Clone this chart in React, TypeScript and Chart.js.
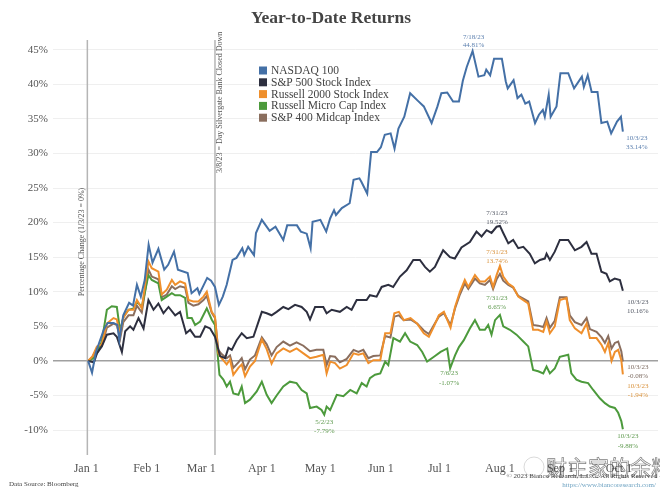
import React, { useEffect, useRef } from "react";
import { Chart, registerables } from "chart.js";

Chart.register(...registerables);

// ---------- DATA ----------
// x = day of year (Jan 1 = 0), y = % change since 1/3/23
const monthStartDays = [0, 31, 59, 90, 120, 151, 181, 212, 243, 273];
const monthLabels = ["Jan 1", "Feb 1", "Mar 1", "Apr 1", "May 1", "Jun 1", "Jul 1", "Aug 1", "Sep 1", "Oct 1"];
const yTickValues = [-10, -5, 0, 5, 10, 15, 20, 25, 30, 35, 40, 45];
const eventDays = [0.6, 66];

const seriesNames = [
  "NASDAQ 100",
  "S&P 500 Stock Index",
  "Russell 2000 Stock Index",
  "Russell Micro Cap Index",
  "S&P 400 Midcap Index",
];
const seriesColors = ["#4470a6", "#2d2f3f", "#ef8f2c", "#4c9a3c", "#8a6e5e"];

const nasdaq100: [number, number][] = [
  [1, 0], [3, -1.7], [5, 1.3], [9, 4.5], [11, 5.5], [14, 5.5], [16, 5.2], [17, 3.0], [19, 6.6], [22, 8.4],
  [24, 8.0], [26, 11.0], [28, 9.3], [30, 11.7], [32, 16.8], [34, 14.2], [37, 16.2], [40, 13.2], [42, 13.9], [45, 15.8],
  [47, 13.2], [52, 12.7], [54, 9.8], [57, 10.5], [58, 9.7], [62, 12.0], [64, 11.6], [66, 10.7], [68, 8.1], [70, 9.3],
  [72, 11.0], [75, 14.6], [77, 14.9], [80, 16.3], [81, 15.3], [83, 16.5], [86, 15.3], [87, 18.5], [90, 20.4], [94, 18.8],
  [97, 19.4], [101, 17.5], [103, 19.6], [108, 19.6], [110, 18.7], [113, 18.4], [115, 16.3], [116, 20.1], [120, 20.4], [123, 18.7],
  [125, 20.6], [127, 21.8], [128, 21.1], [131, 22.1], [135, 22.8], [137, 26.2], [140, 26.4], [141, 25.9], [144, 24.2], [146, 30.2],
  [149, 30.2], [151, 30.9], [153, 32.7], [156, 32.9], [158, 30.7], [160, 33.6], [163, 35.3], [166, 38.7], [170, 37.6], [173, 36.8],
  [177, 34.4], [180, 36.8], [182, 38.7], [185, 38.8], [188, 37.5], [191, 37.5], [193, 40.5], [195, 42.5], [198, 44.81], [201, 41.1],
  [204, 41.3], [205, 42.1], [207, 41.3], [209, 43.7], [213, 43.7], [215, 40.4], [216, 39.4], [219, 40.6], [221, 38.0], [223, 38.5],
  [225, 37.2], [227, 37.5], [230, 34.4], [232, 35.6], [234, 36.3], [235, 35.3], [237, 38.5], [238, 35.3], [241, 36.8], [243, 41.6],
  [247, 41.6], [250, 39.4], [254, 41.1], [255, 39.6], [257, 41.3], [259, 38.9], [262, 38.9], [264, 34.4], [267, 34.6], [269, 32.9],
  [272, 34.6], [274, 35.3], [275, 33.14],
];

const sp500: [number, number][] = [
  [1, 0], [4, -0.2], [5.5, 1.1], [8, 2.1], [10.6, 3.8], [14, 4.0], [15.7, 3.5], [18.3, 1.3], [20, 4.3], [22.5, 5.0],
  [24.2, 4.5], [26.8, 6.2], [29.4, 4.7], [31.9, 8.8], [34.5, 7.4], [37, 8.3], [39.6, 6.9], [42.2, 7.8], [45.6, 6.6], [48.1, 7.1],
  [51.2, 4.0], [53.3, 4.5], [55.8, 3.5], [58.4, 3.5], [61, 5.0], [63.5, 4.7], [66, 3.5], [68.6, 0.7], [71.2, 0.4], [72.9, 1.9],
  [74.6, 1.6], [77.1, 3.0], [79.7, 4.0], [82.3, 3.3], [85.7, 3.5], [90, 7.1], [92.5, 6.9], [95, 6.6], [97.6, 7.1], [101, 7.8],
  [103.6, 7.5], [107, 8.1], [110.4, 7.8], [113, 7.1], [114.7, 6.0], [117.3, 7.8], [121.5, 7.8], [123.2, 6.9], [125.8, 7.4], [130, 7.1],
  [133.5, 7.8], [136, 7.4], [138.6, 8.8], [143.7, 8.8], [145.4, 9.5], [148.8, 9.3], [151.4, 10.7], [154.8, 11.0], [157.3, 10.7], [160.8, 12.2],
  [164.2, 13.1], [167.6, 14.6], [171, 14.6], [173.6, 13.6], [176.1, 12.9], [178.7, 13.6], [180.4, 14.6], [182.9, 16.0], [186.4, 15.0], [188.9, 14.8],
  [192.3, 16.4], [196.6, 17.2], [200, 18.7], [202.6, 18.0], [205.2, 18.9], [207.7, 18.5], [210.3, 19.4], [212, 19.52], [213.7, 18.5], [216.3, 17.0],
  [218.8, 17.5], [221.4, 16.3], [224, 16.5], [227.3, 15.5], [229.9, 14.1], [232.5, 14.6], [235, 14.8], [235.9, 15.5], [237.6, 14.6], [240.1, 15.8],
  [242.7, 17.5], [247, 17.5], [250.4, 16.0], [253.8, 16.5], [256.4, 17.2], [258.9, 15.5], [261.5, 15.5], [264, 12.9], [266.6, 12.6], [268.3, 11.5],
  [270.8, 11.9], [273.5, 11.7], [275, 10.16],
];

const russell2000: [number, number][] = [
  [1, 0], [3.3, 0.7], [5.5, 2.1], [8, 2.4], [10.6, 5.4], [14, 6.2], [15.7, 6.0], [17.4, 3.8], [19, 6.2], [21.7, 7.4],
  [24.2, 7.4], [26, 8.8], [28.5, 7.6], [31.9, 14.4], [33.6, 13.4], [37, 12.9], [38.7, 9.6], [41.3, 10.3], [43.9, 11.7], [45.6, 11.0],
  [48.1, 11.5], [50.7, 11.2], [52.4, 8.8], [54.9, 8.6], [57.5, 8.6], [60.1, 9.3], [61.8, 10.0], [64.3, 7.1], [66, 6.4], [67.7, 1.1],
  [69.4, 0.4], [72, -0.5], [73.7, 0.2], [75.4, -2.0], [78, -1.0], [79.7, -0.5], [81.4, -2.2], [83.9, -0.8], [86.5, 0], [90, 3.1],
  [92.5, 1.7], [95, -0.4], [97.6, 1.1], [101, 1.8], [104.4, 1.3], [107.8, 1.8], [111.3, 1.1], [114.7, 0.4], [118, 0.6], [121.5, 0.9],
  [123.2, -1.8], [125, -0.1], [127.5, -0.3], [130, -1.1], [133.5, -0.6], [137, 1.1], [139.5, 0.9], [142, 1.1], [144.6, -0.3], [147.1, 0.1],
  [150.7, 0.1], [153.2, 4.0], [155.9, 4.0], [157.9, 6.9], [160.2, 7.1], [162.7, 5.9], [166.2, 6.2], [169.6, 5.4], [173, 4.0], [175.6, 3.5],
  [178.2, 5.0], [180.7, 6.6], [183.3, 7.1], [186.7, 4.8], [189, 7.8], [191.5, 10.0], [194, 11.7], [195.8, 10.7], [199.2, 12.4], [201.7, 11.5],
  [204.3, 11.5], [206.9, 12.2], [208.5, 10.7], [210.3, 12.4], [212, 13.74], [213.7, 12.2], [216.3, 11.2], [218.8, 10.7], [221.4, 9.3], [224, 8.8],
  [226.5, 8.3], [229, 4.5], [231.6, 4.5], [234.2, 4.2], [235.9, 5.7], [237.6, 4.0], [240.1, 5.0], [242.7, 8.8], [246.1, 9.1], [247.8, 5.9],
  [250.4, 4.7], [253.8, 4.0], [256.4, 5.4], [258.1, 3.3], [261.5, 3.3], [264.1, 2.3], [265.8, 1.3], [267.5, 2.6], [269.2, 0], [270.9, 1.3],
  [272.6, 1.6], [274.2, 0.1], [275, -1.94],
];

const russellMicroCap: [number, number][] = [
  [1, 0], [3.8, 0.4], [5.5, 1.1], [8, 2.8], [10.6, 7.4], [13.1, 7.9], [15.7, 7.8], [17.4, 4.3], [19.1, 6.4], [21.7, 7.4],
  [24.2, 7.6], [26, 8.6], [28.5, 7.8], [31.9, 12.4], [33.6, 11.7], [37, 11.2], [38.7, 8.8], [41.3, 9.3], [43.9, 9.8], [45.6, 9.5],
  [48.1, 9.5], [50.7, 9.1], [51.9, 6.2], [54.1, 6.2], [55.8, 5.2], [58.4, 5.7], [61.8, 7.6], [64.3, 6.0], [66, 5.2], [68.3, -2.0],
  [70.3, -2.7], [72, -3.7], [73.7, -3.0], [75.4, -4.7], [78, -4.9], [79.7, -3.7], [81.4, -6.1], [83.9, -5.6], [87.4, -4.4], [90, -3.0],
  [92.5, -4.9], [95, -6.1], [97.6, -5.0], [101, -3.7], [104.4, -3.0], [107.8, -3.2], [110.4, -4.2], [113, -4.7], [114.7, -6.8], [118.1, -6.6],
  [120.6, -7.1], [122, -7.79], [123.2, -6.6], [125, -7.1], [128.4, -4.9], [131.8, -5.1], [135.3, -4.2], [138.6, -4.7], [141.2, -3.2], [143.7, -3.7],
  [145.4, -2.5], [148, -2.0], [150.7, -1.8], [153.2, -0.1], [154.8, -0.6], [157.4, 3.3], [160.8, 2.8], [163.4, 4.0], [166, 2.8], [169.6, 2.3],
  [172.2, 1.3], [174.7, -0.1], [178.2, 0.6], [181.6, 1.3], [185, 1.8], [186.5, -1.07], [189, 0.8], [191, 2.0], [193.5, 3.0], [196.6, 4.7],
  [199.2, 5.9], [201.7, 4.5], [204.3, 4.5], [206, 5.2], [207.7, 3.8], [209.5, 5.9], [212, 6.65], [213.7, 5.0], [217.1, 4.5], [220.5, 3.8],
  [224, 2.8], [226.5, 2.1], [229, -1.3], [231.6, -1.5], [234.2, -1.8], [235.9, -0.8], [237.6, -1.8], [240.1, -1.1], [242.7, 0.6], [247, 0.9],
  [248.6, -1.8], [251.2, -2.7], [253.8, -3.0], [257.2, -3.2], [259.8, -4.2], [263.2, -5.4], [265.8, -6.1], [268.3, -6.6], [270.9, -6.8], [272.6, -7.5],
  [274.2, -8.7], [275, -9.88],
];

const sp400Midcap: [number, number][] = [
  [1, 0], [3, 0.5], [5.5, 1.8], [8, 2.2], [10.6, 4.8], [14, 5.4], [15.7, 5.2], [17.4, 3.2], [19, 5.6], [21.7, 6.6],
  [24.2, 6.6], [26, 8.0], [28.5, 7.0], [31.9, 13.2], [33.6, 12.2], [37, 11.8], [38.7, 9.2], [41.3, 9.6], [43.9, 10.8], [45.6, 10.4],
  [48.1, 10.8], [50.7, 10.6], [52.4, 8.4], [54.9, 8.0], [57.5, 8.2], [60.1, 8.8], [61.8, 9.4], [64.3, 7.0], [66, 6.2], [67.7, 1.6],
  [69.4, 1.0], [72, 0.4], [73.7, 0.8], [75.4, -1.0], [78, -0.2], [79.7, 0.4], [81.4, -1.2], [83.9, 0.2], [86.5, 0.8], [90, 3.4],
  [92.5, 2.4], [95, 0.8], [97.6, 2.0], [101, 2.8], [104.4, 2.2], [107.8, 2.7], [111.3, 2.2], [114.7, 1.4], [118, 1.6], [121.5, 1.6],
  [123.2, -0.6], [125, 0.7], [127.5, 0.6], [130, -0.2], [133.5, 0.3], [137, 1.6], [139.5, 1.3], [142, 1.6], [144.6, 0.4], [147.1, 0.7],
  [150.7, 0.8], [153.2, 3.6], [155.9, 3.4], [157.9, 6.4], [160.2, 6.6], [162.7, 5.9], [166.2, 6.0], [169.6, 5.4], [173, 4.4], [175.6, 3.9],
  [178.2, 5.2], [180.7, 6.4], [183.3, 6.9], [186.7, 5.2], [189, 7.6], [191.5, 9.6], [194, 11.2], [195.8, 10.4], [199.2, 11.9], [201.7, 11.2],
  [204.3, 11.0], [206.9, 11.7], [208.5, 10.4], [210.3, 11.8], [212, 12.6], [213.7, 11.6], [216.3, 11.0], [218.8, 10.6], [221.4, 9.4], [224, 9.0],
  [226.5, 8.6], [229, 5.2], [231.6, 5.1], [234.2, 4.9], [235.9, 6.2], [237.6, 4.8], [240.1, 5.8], [242.7, 9.2], [246.1, 9.2], [247.8, 6.6],
  [250.4, 5.6], [253.8, 5.2], [256.4, 6.2], [258.1, 4.6], [261.5, 4.2], [264.1, 3.4], [265.8, 2.6], [267.5, 3.6], [269.2, 1.8], [270.9, 2.6],
  [272.6, 2.8], [274.2, 1.4], [275, -0.08],
];

const allSeries = [nasdaq100, sp500, russell2000, russellMicroCap, sp400Midcap];

// callouts: [series index, day, value, date text]
const callouts: [number, number, number, string][] = [
  [0, 198, 44.81, "7/18/23"],
  [0, 275, 33.14, "10/3/23"],
  [1, 212, 19.52, "7/31/23"],
  [1, 275, 10.16, "10/3/23"],
  [2, 212, 13.74, "7/31/23"],
  [3, 212, 6.65, "7/31/23"],
  [4, 275, -0.08, "10/3/23"],
  [2, 275, -1.94, "10/3/23"],
  [3, 275, -9.88, "10/3/23"],
  [3, 122, -7.79, "5/2/23"],
  [3, 186, -1.07, "7/6/23"],
];

// ---------- STYLE ----------
const SERIF = "'Liberation Serif', 'DejaVu Serif', serif";
const calloutColors = ["#5b7fae", "#555a66", "#d9923c", "#5f9a4f", "#7d6c62"];
// offsets of the two text lines relative to the marked point [dx, dy1, dy2]
const calloutOffsets: [number, number, number][] = [
  [1, -14, -6],
  [14, 6, 15],
  [-3, -13, -4],
  [15, 11, 20],
  [-3, -14, -5],
  [-3, -17, -8],
  [15, 6, 15],
  [15, 12, 21],
  [5, 7, 17],
  [0, 7, 16],
  [0, 5, 15],
];

const decorPlugin = {
  id: "decor",
  beforeDatasetsDraw(chart: any) {
    const { ctx, chartArea, scales } = chart;
    ctx.save();
    ctx.strokeStyle = "#b5b5b5";
    ctx.lineWidth = 1.5;
    for (const d of eventDays) {
      const x = scales.x.getPixelForValue(d);
      ctx.beginPath();
      ctx.moveTo(x, chartArea.top);
      ctx.lineTo(x, chartArea.bottom);
      ctx.stroke();
    }
    ctx.fillStyle = "#555";
    ctx.font = `8px ${SERIF}`;
    ctx.textBaseline = "middle";
    ctx.save();
    ctx.translate(scales.x.getPixelForValue(eventDays[0]) - 5, 242);
    ctx.rotate(-Math.PI / 2);
    ctx.textAlign = "center";
    ctx.fillText("Percentage Change (1/3/23 = 0%)", 0, 0);
    ctx.restore();
    ctx.save();
    ctx.translate(scales.x.getPixelForValue(eventDays[1]) + 5, 173);
    ctx.rotate(-Math.PI / 2);
    ctx.textAlign = "left";
    ctx.fillText("3/8/23 = Day Silvergate Bank Closed Down", 0, 0);
    ctx.restore();
    ctx.restore();
  },
  afterDraw(chart: any) {
    const { ctx, scales } = chart;
    ctx.save();
    ctx.fillStyle = "#444";
    ctx.font = `bold 17.5px ${SERIF}`;
    ctx.textAlign = "center";
    ctx.textBaseline = "middle";
    ctx.fillText("Year-to-Date Returns", 331, 18);

    ctx.font = `11.5px ${SERIF}`;
    ctx.textAlign = "left";
    seriesNames.forEach((name, i) => {
      const y = 70.5 + i * 11.8;
      ctx.fillStyle = seriesColors[i];
      ctx.fillRect(259, y - 4, 8, 8);
      ctx.fillStyle = "#444";
      ctx.fillText(name, 271, y + 0.5);
    });

    ctx.font = `7px ${SERIF}`;
    ctx.textAlign = "center";
    callouts.forEach(([s, day, val, date], i) => {
      const x = scales.x.getPixelForValue(day);
      const y = scales.y.getPixelForValue(val);
      const [dx, dy1, dy2] = calloutOffsets[i];
      ctx.fillStyle = calloutColors[s];
      ctx.fillText(date, x + dx, y + dy1);
      ctx.fillText(val.toFixed(2) + "%", x + dx, y + dy2);
    });

    ctx.font = `7px ${SERIF}`;
    ctx.fillStyle = "#444";
    ctx.textAlign = "left";
    ctx.fillText("Data Source: Bloomberg", 9, 484);
    ctx.textAlign = "right";
    ctx.fillText("© 2023 Bianco Research, L.L.C. All Rights Reserved", 657, 476);
    ctx.fillStyle = "#6fa3c2";
    ctx.fillText("https://www.biancoresearch.com/", 656, 485);

    // watermark (outlined only, so the labels beneath stay visible)
    ctx.font = `21px 'Noto Sans CJK SC', sans-serif`;
    ctx.textAlign = "left";
    ctx.lineWidth = 0.7;
    ctx.strokeStyle = "rgba(70,70,70,0.7)";
    ctx.strokeText("财主家的余粮", 546, 467);
    ctx.beginPath();
    ctx.arc(534, 467, 10, 0, Math.PI * 2);
    ctx.strokeStyle = "rgba(150,150,150,0.5)";
    ctx.stroke();
    ctx.restore();
  },
};

export default function App() {
  const canvasRef = useRef<HTMLCanvasElement | null>(null);

  useEffect(() => {
    if (!canvasRef.current) return;
    const chart = new Chart(canvasRef.current, {
      type: "line",
      data: {
        datasets: allSeries.map((pts, i) => ({
          label: seriesNames[i],
          data: pts.map(([x, y]) => ({ x, y })),
          borderColor: seriesColors[i],
          backgroundColor: seriesColors[i],
          borderWidth: 2,
          pointRadius: 0,
          tension: 0,
          fill: false,
        })),
      },
      options: {
        animation: false,
        responsive: false,
        events: [],
        devicePixelRatio: 1,
        layout: { padding: { top: 40, right: 2, left: 0, bottom: 0 } },
        plugins: {
          legend: { display: false },
          title: { display: false },
          tooltip: { enabled: false },
        },
        scales: {
          x: {
            type: "linear",
            min: -17,
            max: 293,
            afterBuildTicks: (scale: any) => {
              scale.ticks = monthStartDays.map((v) => ({ value: v }));
            },
            afterFit: (scale: any) => {
              scale.height = 41;
            },
            grid: { display: false, drawTicks: false },
            border: { display: false },
            ticks: {
              autoSkip: false,
              maxRotation: 0,
              padding: 7,
              color: "#555",
              font: { family: SERIF, size: 12 },
              callback: (_v: any, i: number) => monthLabels[i],
            },
          },
          y: {
            type: "linear",
            min: -13.6,
            max: 46.4,
            afterBuildTicks: (scale: any) => {
              scale.ticks = yTickValues.map((v) => ({ value: v }));
            },
            afterFit: (scale: any) => {
              scale.width = 53;
            },
            grid: {
              drawTicks: false,
              color: (c: any) => (c.tick && c.tick.value === 0 ? "#a0a0a0" : "#efefef"),
              lineWidth: (c: any) => (c.tick && c.tick.value === 0 ? 1.5 : 1),
            },
            border: { display: false },
            ticks: {
              padding: 5,
              color: "#555",
              font: { family: SERIF, size: 11 },
              callback: (v: any) => `${v}%`,
            },
          },
        },
      },
      plugins: [decorPlugin],
    });
    return () => chart.destroy();
  }, []);

  return (
    <div style={{ position: "absolute", left: 0, top: 0, width: 660, height: 496, background: "#fff" }}>
      <canvas ref={canvasRef} width={660} height={496} />
    </div>
  );
}
